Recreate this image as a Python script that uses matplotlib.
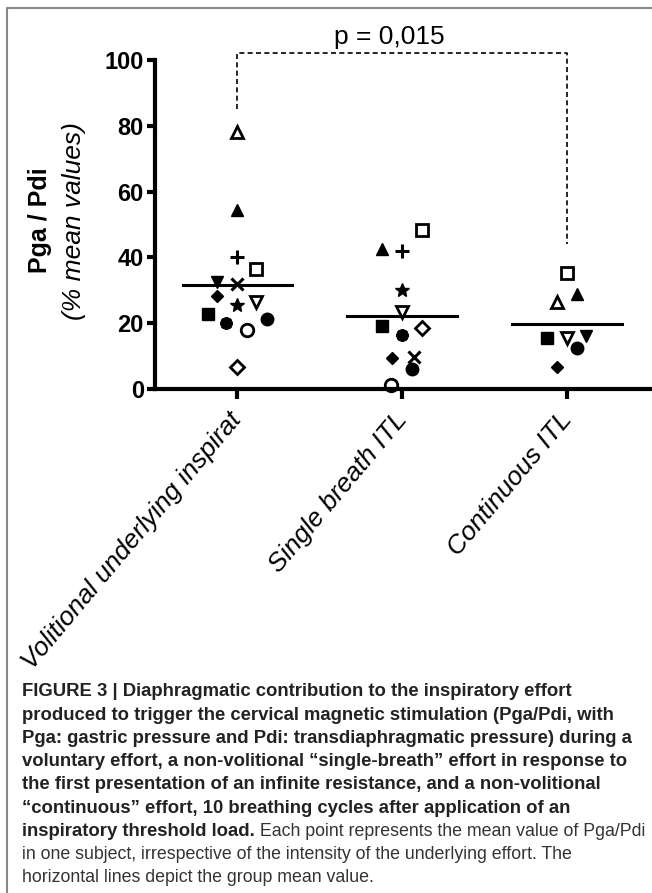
import matplotlib
matplotlib.use('Agg')
import matplotlib.pyplot as plt
import numpy as np
from matplotlib.lines import Line2D

plt.rcParams['font.family'] = ['Liberation Sans', 'DejaVu Sans']

# data ########################################################################
groups = ['Volitional underlying inspirat', 'Single breath ITL', 'Continuous ITL']

# one entry per subject symbol, value in % (Pga/Pdi mean)
g1_syms = ['open_tri_up', 'tri_up', 'plus', 'open_square', 'tri_down', 'x', 'diamond',
           'star', 'open_tri_down', 'square', 'circle', 'asterisk', 'open_circle', 'open_diamond']
g1_vals = [78, 54.5, 40, 36.5, 32.5, 32, 28.3, 25.5, 26.5, 22.8, 21.3, 20, 18, 6.7]

g2_syms = ['tri_up', 'plus', 'open_square', 'star', 'open_tri_down', 'square', 'asterisk',
           'open_diamond', 'diamond', 'x', 'circle', 'open_circle']
g2_vals = [42.5, 42, 48.3, 30, 23.4, 19, 16.4, 18.5, 9.3, 9.8, 6.0, 1.2]

g3_syms = ['open_square', 'tri_up', 'open_tri_up', 'square', 'open_tri_down', 'tri_down',
           'circle', 'diamond']
g3_vals = [35.3, 29, 26.5, 15.5, 15.5, 16, 12.5, 6.7]

p_text = 'p = 0,015'

# horizontal scatter offsets (layout only)
g1_off = [0, 0, 0, 0.115, -0.127, 0, -0.127, 0, 0.115, -0.18, 0.18, -0.067, 0.055, 0]
g2_off = [-0.121, 0, 0.121, 0, 0, -0.121, 0, 0.121, -0.062, 0.073, 0.06, -0.067]
g3_off = [0, 0.06, -0.06, -0.121, 0, 0.115, 0.06, -0.06]

# marker styles ###############################################################
W = 'white'
K = 'black'
styles = {
    'open_tri_up':   dict(marker='^', ms=9, mfc=W, mec=K, mew=2),
    'tri_up':        dict(marker='^', ms=9, mfc=K, mec=K, mew=1),
    'plus':          dict(marker='+', ms=10, mec=K, mew=2.2),
    'open_square':   dict(marker='s', ms=9, mfc=W, mec=K, mew=2),
    'tri_down':      dict(marker='v', ms=9, mfc=K, mec=K, mew=1),
    'x':             dict(marker='x', ms=8.5, mec=K, mew=2.2),
    'diamond':       dict(marker='D', ms=6.5, mfc=K, mec=K, mew=1),
    'star':          dict(marker='*', ms=10, mfc=K, mec=K, mew=1),
    'open_tri_down': dict(marker='v', ms=9, mfc=W, mec=K, mew=2),
    'square':        dict(marker='s', ms=8, mfc=K, mec=K, mew=1),
    'circle':        dict(marker='o', ms=9, mfc=K, mec=K, mew=1),
    'asterisk':      dict(marker=(8, 2, 0), ms=9, mec=K, mew=2.6),
    'open_circle':   dict(marker='o', ms=9, mfc='none', mec=K, mew=2),
    'open_diamond':  dict(marker='D', ms=7.5, mfc=W, mec=K, mew=2),
}

# figure ######################################################################
fig = plt.figure(figsize=(6.52, 8.93), dpi=100)
ax = fig.add_axes([0.2377, 0.5644, 0.759, 0.3684])

all_groups = [(g1_syms, g1_vals, g1_off), (g2_syms, g2_vals, g2_off), (g3_syms, g3_vals, g3_off)]
for i, (syms, vals, offs) in enumerate(all_groups):
    xc = i + 1
    for s, v, o in zip(syms, vals, offs):
        ax.plot(xc + o, v, linestyle='none', clip_on=False, zorder=5, **styles[s])
    m = np.mean(vals)
    ax.plot([xc - 0.333, xc + 0.333], [m, m], color=K, lw=2.2, zorder=3)

ax.set_xlim(0.5, 3.5)
ax.set_ylim(0, 100)
ax.set_yticks([0, 20, 40, 60, 80, 100])
ax.set_xticks([1, 2, 3])
ax.set_xticklabels(groups, rotation=50, ha='right', va='center', rotation_mode='anchor',
                   fontsize=19, fontstyle='italic')
for lab in ax.get_yticklabels():
    lab.set_fontweight('bold')
    lab.set_fontsize(17)
ax.tick_params(axis='y', width=3, length=6, pad=2)
ax.tick_params(axis='x', width=3, length=7, pad=12)
for sp in ['top', 'right']:
    ax.spines[sp].set_visible(False)
for sp in ['left', 'bottom']:
    ax.spines[sp].set_linewidth(3)

# significance bracket
ytop = 102
ax.plot([1, 1, 3, 3], [85, ytop, ytop, 44], color=K, lw=1.2, ls=(0, (3, 2)), clip_on=False)
ax.text(1.92, 105, p_text, ha='center', va='baseline', fontsize=19)

# y label
fig.text(0.062, 0.753, 'Pga / Pdi', rotation=90, ha='center', va='center',
         fontsize=18, fontweight='bold')
fig.text(0.113, 0.753, '(% mean values)', rotation=90, ha='center', va='center',
         fontsize=19, fontstyle='italic')

# frame around the figure (top + left)
fig.add_artist(Line2D([7 / 652, 7 / 652, 1], [0, 1 - 8 / 893, 1 - 8 / 893],
                      transform=fig.transFigure, color='#888888', lw=1.5))

# caption #####################################################################
bold_lines = [
    'FIGURE 3 | Diaphragmatic contribution to the inspiratory effort',
    'produced to trigger the cervical magnetic stimulation (Pga/Pdi, with',
    'Pga: gastric pressure and Pdi: transdiaphragmatic pressure) during a',
    'voluntary effort, a non-volitional \u201csingle-breath\u201d effort in response to',
    'the first presentation of an infinite resistance, and a non-volitional',
    '\u201ccontinuous\u201d effort, 10 breathing cycles after application of an',
]
mixed_bold = 'inspiratory threshold load.'
mixed_rest = ' Each point represents the mean value of Pga/Pdi'
plain_lines = [
    'in one subject, irrespective of the intensity of the underlying effort. The',
    'horizontal lines depict the group mean value.',
]

x0 = 22 / 652
y_first = 692
dy = 23.2
bold_fs = 13.3
plain_fs = 12.8
yy = y_first
for line in bold_lines:
    fig.text(x0, 1 - yy / 893, line, ha='left', va='center', fontsize=bold_fs,
             fontweight='bold', color='#222222')
    yy += dy
t = fig.text(x0, 1 - yy / 893, mixed_bold, ha='left', va='center', fontsize=bold_fs,
             fontweight='bold', color='#222222')
r = fig.canvas.get_renderer()
bb = t.get_window_extent(renderer=r)
fig.text(bb.x1 / fig.bbox.width, 1 - yy / 893, mixed_rest, ha='left', va='center',
         fontsize=plain_fs, color='#333333')
yy += dy
for line in plain_lines:
    fig.text(x0, 1 - yy / 893, line, ha='left', va='center', fontsize=plain_fs, color='#333333')
    yy += dy

fig.savefig('out.png', dpi=100)
